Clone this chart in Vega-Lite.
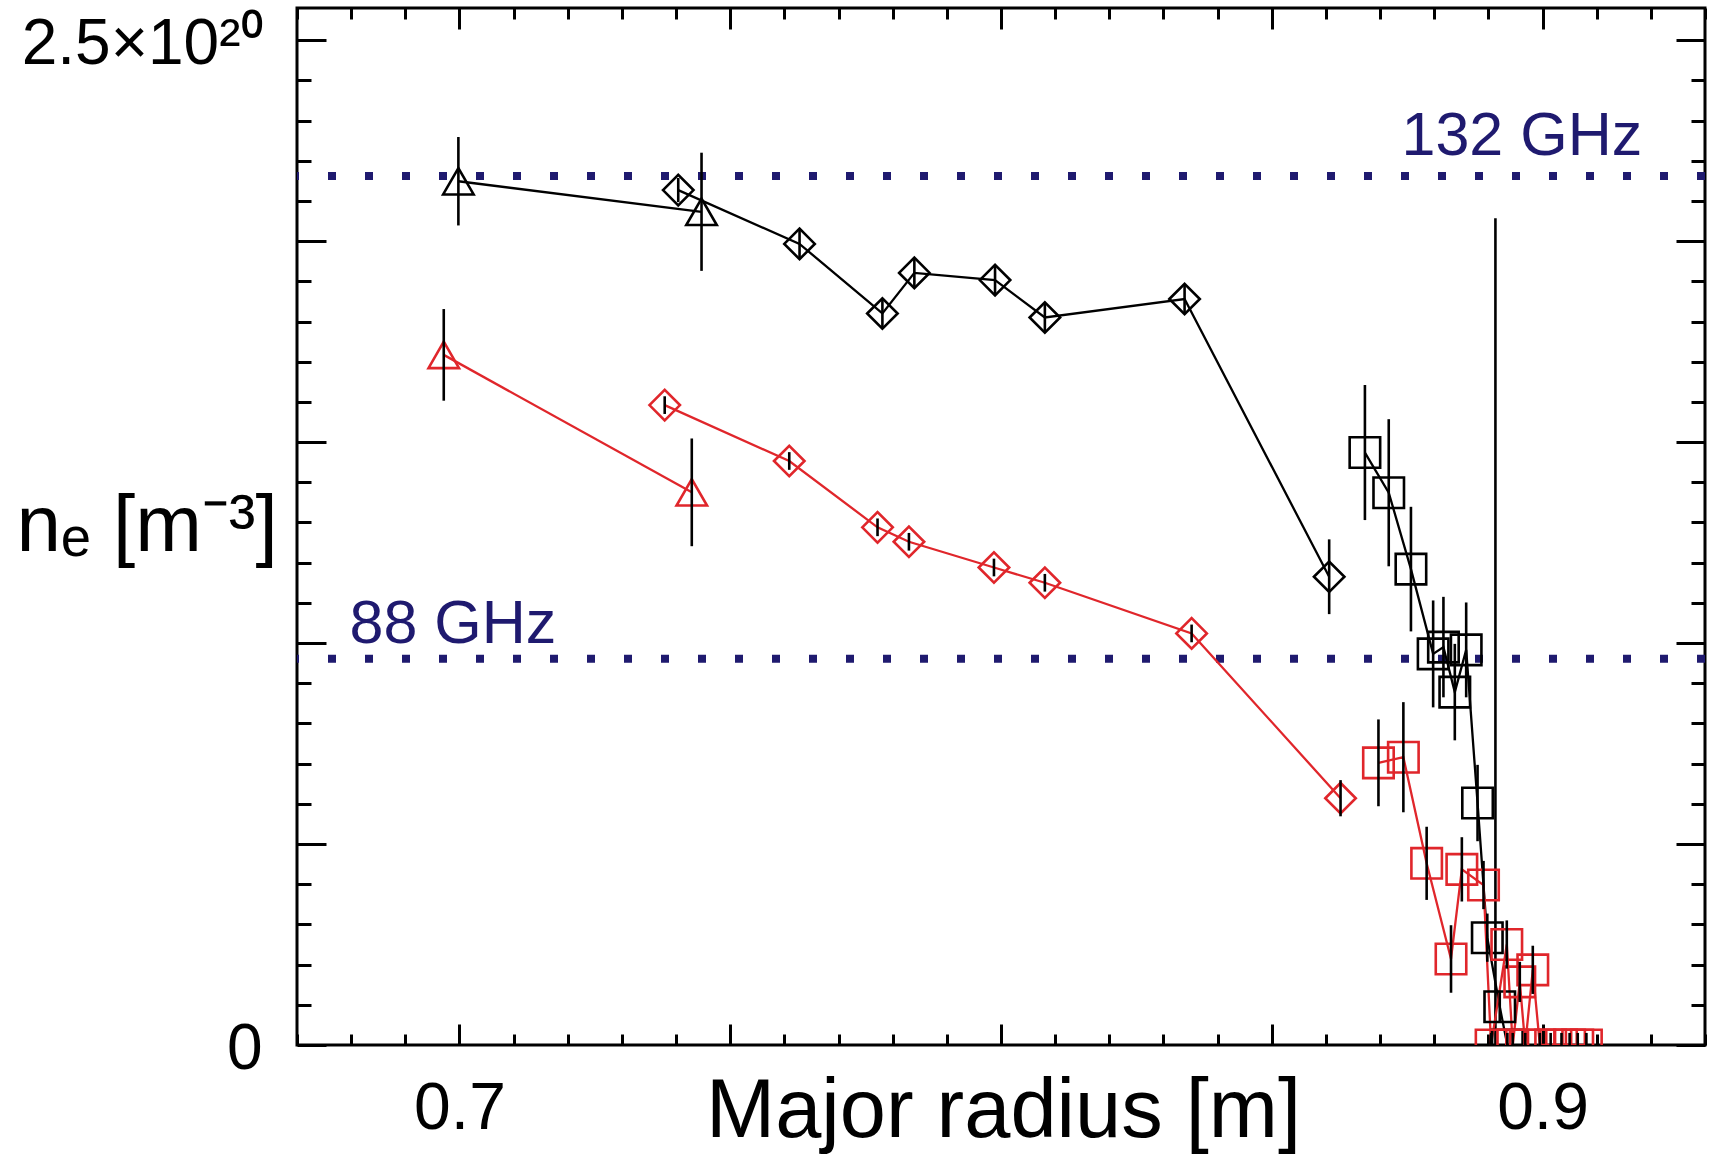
{
  "$schema": "https://vega.github.io/schema/vega-lite/v6.json",
  "width": 1408,
  "height": 1037,
  "autosize": {"type": "none"},
  "padding": {"left": 297, "top": 8, "right": 6, "bottom": 110},
  "background": "#ffffff",
  "config": {
    "view": {"stroke": "#000000", "strokeWidth": 3},
    "font": "Liberation Sans"
  },
  "datasets": {
    "profiles": [
      {"profile": "P1", "diag": "tri", "r": 0.6998, "ne": 2.149, "lo": 2.039, "hi": 2.259},
      {"profile": "P1", "diag": "tri", "r": 0.7447, "ne": 2.073, "lo": 1.926, "hi": 2.220},
      {"profile": "P1", "diag": "dmd", "r": 0.7404, "ne": 2.127, "lo": 2.097, "hi": 2.157},
      {"profile": "P1", "diag": "dmd", "r": 0.7628, "ne": 1.993, "lo": 1.958, "hi": 2.028},
      {"profile": "P1", "diag": "dmd", "r": 0.7781, "ne": 1.820, "lo": 1.785, "hi": 1.855},
      {"profile": "P1", "diag": "dmd", "r": 0.7840, "ne": 1.921, "lo": 1.886, "hi": 1.956},
      {"profile": "P1", "diag": "dmd", "r": 0.7989, "ne": 1.903, "lo": 1.868, "hi": 1.938},
      {"profile": "P1", "diag": "dmd", "r": 0.8081, "ne": 1.810, "lo": 1.775, "hi": 1.845},
      {"profile": "P1", "diag": "dmd", "r": 0.8339, "ne": 1.856, "lo": 1.821, "hi": 1.891},
      {"profile": "P1", "diag": "dmd", "r": 0.8606, "ne": 1.165, "lo": 1.072, "hi": 1.258},
      {"profile": "P1", "diag": "sqr", "r": 0.8672, "ne": 1.474, "lo": 1.306, "hi": 1.642},
      {"profile": "P1", "diag": "sqr", "r": 0.8716, "ne": 1.374, "lo": 1.191, "hi": 1.557},
      {"profile": "P1", "diag": "sqr", "r": 0.8757, "ne": 1.184, "lo": 1.029, "hi": 1.339},
      {"profile": "P1", "diag": "sqr", "r": 0.8798, "ne": 0.973, "lo": 0.840, "hi": 1.106},
      {"profile": "P1", "diag": "sqr", "r": 0.8817, "ne": 0.990, "lo": 0.865, "hi": 1.115},
      {"profile": "P1", "diag": "sqr", "r": 0.8838, "ne": 0.878, "lo": 0.758, "hi": 0.998},
      {"profile": "P1", "diag": "sqr", "r": 0.8859, "ne": 0.983, "lo": 0.865, "hi": 1.101},
      {"profile": "P1", "diag": "sqr", "r": 0.8880, "ne": 0.602, "lo": 0.507, "hi": 0.697},
      {"profile": "P1", "diag": "sqr", "r": 0.8898, "ne": 0.267, "lo": 0.207, "hi": 0.327},
      {"profile": "P1", "diag": "sqr", "r": 0.8921, "ne": 0.095, "lo": 0.055, "hi": 0.135},
      {"profile": "P1", "diag": "sqr", "r": 0.8935, "ne": 0.000, "lo": -0.030, "hi": 0.030},
      {"profile": "P2", "diag": "tri", "r": 0.6971, "ne": 1.717, "lo": 1.603, "hi": 1.831},
      {"profile": "P2", "diag": "tri", "r": 0.7429, "ne": 1.375, "lo": 1.241, "hi": 1.509},
      {"profile": "P2", "diag": "dmd", "r": 0.7379, "ne": 1.592, "lo": 1.570, "hi": 1.614},
      {"profile": "P2", "diag": "dmd", "r": 0.7609, "ne": 1.453, "lo": 1.431, "hi": 1.475},
      {"profile": "P2", "diag": "dmd", "r": 0.7772, "ne": 1.288, "lo": 1.266, "hi": 1.310},
      {"profile": "P2", "diag": "dmd", "r": 0.7830, "ne": 1.252, "lo": 1.230, "hi": 1.274},
      {"profile": "P2", "diag": "dmd", "r": 0.7987, "ne": 1.188, "lo": 1.166, "hi": 1.210},
      {"profile": "P2", "diag": "dmd", "r": 0.8081, "ne": 1.150, "lo": 1.128, "hi": 1.172},
      {"profile": "P2", "diag": "dmd", "r": 0.8352, "ne": 1.024, "lo": 1.002, "hi": 1.046},
      {"profile": "P2", "diag": "dmd", "r": 0.8627, "ne": 0.614, "lo": 0.569, "hi": 0.659},
      {"profile": "P2", "diag": "sqr", "r": 0.8697, "ne": 0.702, "lo": 0.594, "hi": 0.810},
      {"profile": "P2", "diag": "sqr", "r": 0.8743, "ne": 0.716, "lo": 0.579, "hi": 0.853},
      {"profile": "P2", "diag": "sqr", "r": 0.8786, "ne": 0.452, "lo": 0.361, "hi": 0.543},
      {"profile": "P2", "diag": "sqr", "r": 0.8831, "ne": 0.214, "lo": 0.130, "hi": 0.298},
      {"profile": "P2", "diag": "sqr", "r": 0.8851, "ne": 0.437, "lo": 0.357, "hi": 0.517},
      {"profile": "P2", "diag": "sqr", "r": 0.8891, "ne": 0.398, "lo": 0.338, "hi": 0.458},
      {"profile": "P2", "diag": "sqr", "r": 0.8905, "ne": 0.000, "lo": -0.030, "hi": 0.030},
      {"profile": "P2", "diag": "sqr", "r": 0.8934, "ne": 0.250, "lo": 0.190, "hi": 0.310},
      {"profile": "P2", "diag": "sqr", "r": 0.8945, "ne": 0.000, "lo": -0.030, "hi": 0.030},
      {"profile": "P2", "diag": "sqr", "r": 0.8958, "ne": 0.157, "lo": 0.107, "hi": 0.207},
      {"profile": "P2", "diag": "sqr", "r": 0.8968, "ne": 0.000, "lo": -0.030, "hi": 0.030},
      {"profile": "P2", "diag": "sqr", "r": 0.8982, "ne": 0.187, "lo": 0.127, "hi": 0.247},
      {"profile": "P2", "diag": "sqr", "r": 0.8995, "ne": 0.000, "lo": -0.030, "hi": 0.030},
      {"profile": "P2", "diag": "sqr", "r": 0.9015, "ne": 0.000, "lo": -0.030, "hi": 0.030},
      {"profile": "P2", "diag": "sqr", "r": 0.9035, "ne": 0.000, "lo": -0.030, "hi": 0.030},
      {"profile": "P2", "diag": "sqr", "r": 0.9050, "ne": 0.000, "lo": -0.030, "hi": 0.030},
      {"profile": "P2", "diag": "sqr", "r": 0.9065, "ne": 0.000, "lo": -0.030, "hi": 0.030},
      {"profile": "P2", "diag": "sqr", "r": 0.9081, "ne": 0.000, "lo": -0.030, "hi": 0.030}
    ],
    "cutoffs": [
      {"freq": "132 GHz", "nc": 2.162, "lx": 0.87395, "ly": 2.214},
      {"freq": "88 GHz", "nc": 0.961, "lx": 0.6797, "ly": 1.0}
    ],
    "separatrix": [
      {"r": 0.8913, "n0": 0, "n1": 2.057}
    ]
  },
  "layer": [
    {
      "data": {"name": "cutoffs"},
      "mark": {"type": "rule", "color": "#1f1a6f", "strokeWidth": 8, "strokeDash": [8, 29], "strokeCap": "butt"},
      "encoding": {
        "y": {"field": "nc", "type": "quantitative", "scale": {"domain": [0, 2.58], "nice": false, "zero": false}, "axis": null}
      }
    },
    {
      "data": {"name": "cutoffs"},
      "mark": {"type": "text", "align": "left", "baseline": "alphabetic", "font": "Liberation Sans", "fontSize": 61, "color": "#1f1a6f"},
      "encoding": {
        "x": {"field": "lx", "type": "quantitative", "scale": {"domain": [0.67, 0.93], "nice": false, "zero": false}, "axis": null},
        "y": {"field": "ly", "type": "quantitative", "scale": {"domain": [0, 2.58], "nice": false, "zero": false}, "axis": null},
        "text": {"field": "freq"}
      }
    },
    {
      "data": {"name": "separatrix"},
      "mark": {"type": "rule", "color": "#000000", "strokeWidth": 2.6},
      "encoding": {
        "x": {"field": "r", "type": "quantitative", "scale": {"domain": [0.67, 0.93], "nice": false, "zero": false}, "axis": null},
        "y": {"field": "n0", "type": "quantitative", "scale": {"domain": [0, 2.58], "nice": false, "zero": false}, "axis": null},
        "y2": {"field": "n1"}
      }
    },
    {
      "data": {"name": "profiles"},
      "mark": {"type": "line", "strokeWidth": 2.3, "clip": true},
      "encoding": {
        "x": {"field": "r", "type": "quantitative", "scale": {"domain": [0.67, 0.93], "nice": false, "zero": false}, "axis": null},
        "y": {"field": "ne", "type": "quantitative", "scale": {"domain": [0, 2.58], "nice": false, "zero": false}, "axis": null},
        "color": {"field": "profile", "type": "nominal", "scale": {"domain": ["P1", "P2"], "range": ["#000000", "#e0262b"]}, "legend": null},
        "detail": [{"field": "profile"}, {"field": "diag"}]
      }
    },
    {
      "data": {"name": "profiles"},
      "mark": {"type": "point", "filled": false, "size": 930, "strokeWidth": 2.6, "opacity": 1, "clip": true},
      "encoding": {
        "x": {
          "field": "r", "type": "quantitative",
          "scale": {"domain": [0.67, 0.93], "nice": false, "zero": false},
          "axis": {
            "orient": "bottom",
            "values": [0.67, 0.68, 0.69, 0.7, 0.71, 0.72, 0.73, 0.74, 0.75, 0.76, 0.77, 0.78, 0.79, 0.8, 0.81, 0.82, 0.83, 0.84, 0.85, 0.86, 0.87, 0.88, 0.89, 0.9, 0.91, 0.92, 0.93],
            "domain": false, "grid": false,
            "tickColor": "#000000", "tickWidth": 3,
            "tickSize": {"condition": {"test": "abs(datum.value*20 - round(datum.value*20)) < 0.01", "value": -21}, "value": -11},
            "labelExpr": "abs(datum.value-0.7) < 0.001 ? '0.7' : (abs(datum.value-0.9) < 0.001 ? '0.9' : '')",
            "labelFont": "Liberation Sans", "labelFontSize": 66, "labelColor": "#000000",
            "labelPadding": 104, "labelBaseline": "alphabetic", "labelAlign": "center",
            "labelFlush": false, "labelOverlap": false, "labelBound": false, "labelLimit": 0,
            "title": "Major radius [m]",
            "titleFont": "Liberation Sans", "titleFontSize": 83, "titleFontWeight": "normal", "titleColor": "#000000",
            "titleX": 706, "titleY": 91, "titleAlign": "center", "titleBaseline": "alphabetic", "titleLimit": 0
          }
        },
        "y": {
          "field": "ne", "type": "quantitative",
          "scale": {"domain": [0, 2.58], "nice": false, "zero": false},
          "axis": {
            "orient": "left",
            "values": [0, 0.1, 0.2, 0.3, 0.4, 0.5, 0.6, 0.7, 0.8, 0.9, 1.0, 1.1, 1.2, 1.3, 1.4, 1.5, 1.6, 1.7, 1.8, 1.9, 2.0, 2.1, 2.2, 2.3, 2.4, 2.5],
            "domain": false, "grid": false,
            "tickColor": "#000000", "tickWidth": 3,
            "tickSize": {"condition": {"test": "abs(datum.value*2 - round(datum.value*2)) < 0.01", "value": -29}, "value": -14},
            "labelExpr": "datum.value < 0.001 ? '0' : (abs(datum.value-2.5) < 0.001 ? '2.5×10²⁰' : '')",
            "labelFont": "Liberation Sans", "labelFontSize": 64, "labelColor": "#000000",
            "labelPadding": 64, "labelAlign": "right", "labelBaseline": "middle", "labelOffset": 4,
            "labelFlush": false, "labelOverlap": false, "labelBound": false, "labelLimit": 0,
            "title": "nₑ [m⁻³]",
            "titleFont": "Liberation Sans", "titleFontSize": 80, "titleFontWeight": "normal", "titleColor": "#000000",
            "titleAngle": 0, "titleX": -281, "titleY": 542, "titleAlign": "left", "titleBaseline": "alphabetic", "titleLimit": 0
          }
        },
        "color": {"field": "profile", "type": "nominal", "scale": {"domain": ["P1", "P2"], "range": ["#000000", "#e0262b"]}, "legend": null},
        "shape": {"field": "diag", "type": "nominal", "scale": {"domain": ["tri", "dmd", "sqr"], "range": ["triangle-up", "diamond", "square"]}, "legend": null}
      }
    },
    {
      "data": {"name": "profiles"},
      "mark": {"type": "rule", "color": "#000000", "strokeWidth": 2.6, "clip": true},
      "encoding": {
        "x": {
          "field": "r", "type": "quantitative",
          "scale": {"domain": [0.67, 0.93], "nice": false, "zero": false},
          "axis": {
            "orient": "top",
            "values": [0.67, 0.68, 0.69, 0.7, 0.71, 0.72, 0.73, 0.74, 0.75, 0.76, 0.77, 0.78, 0.79, 0.8, 0.81, 0.82, 0.83, 0.84, 0.85, 0.86, 0.87, 0.88, 0.89, 0.9, 0.91, 0.92, 0.93],
            "domain": false, "grid": false, "labels": false, "title": null,
            "tickColor": "#000000", "tickWidth": 3,
            "tickSize": {"condition": {"test": "abs(datum.value*20 - round(datum.value*20)) < 0.01", "value": -21}, "value": -11}
          }
        },
        "y": {
          "field": "lo", "type": "quantitative",
          "scale": {"domain": [0, 2.58], "nice": false, "zero": false},
          "axis": {
            "orient": "right",
            "values": [0, 0.1, 0.2, 0.3, 0.4, 0.5, 0.6, 0.7, 0.8, 0.9, 1.0, 1.1, 1.2, 1.3, 1.4, 1.5, 1.6, 1.7, 1.8, 1.9, 2.0, 2.1, 2.2, 2.3, 2.4, 2.5],
            "domain": false, "grid": false, "labels": false, "title": null,
            "tickColor": "#000000", "tickWidth": 3,
            "tickSize": {"condition": {"test": "abs(datum.value*2 - round(datum.value*2)) < 0.01", "value": -29}, "value": -14}
          }
        },
        "y2": {"field": "hi"}
      }
    }
  ],
  "resolve": {"axis": {"x": "independent", "y": "independent"}}
}
